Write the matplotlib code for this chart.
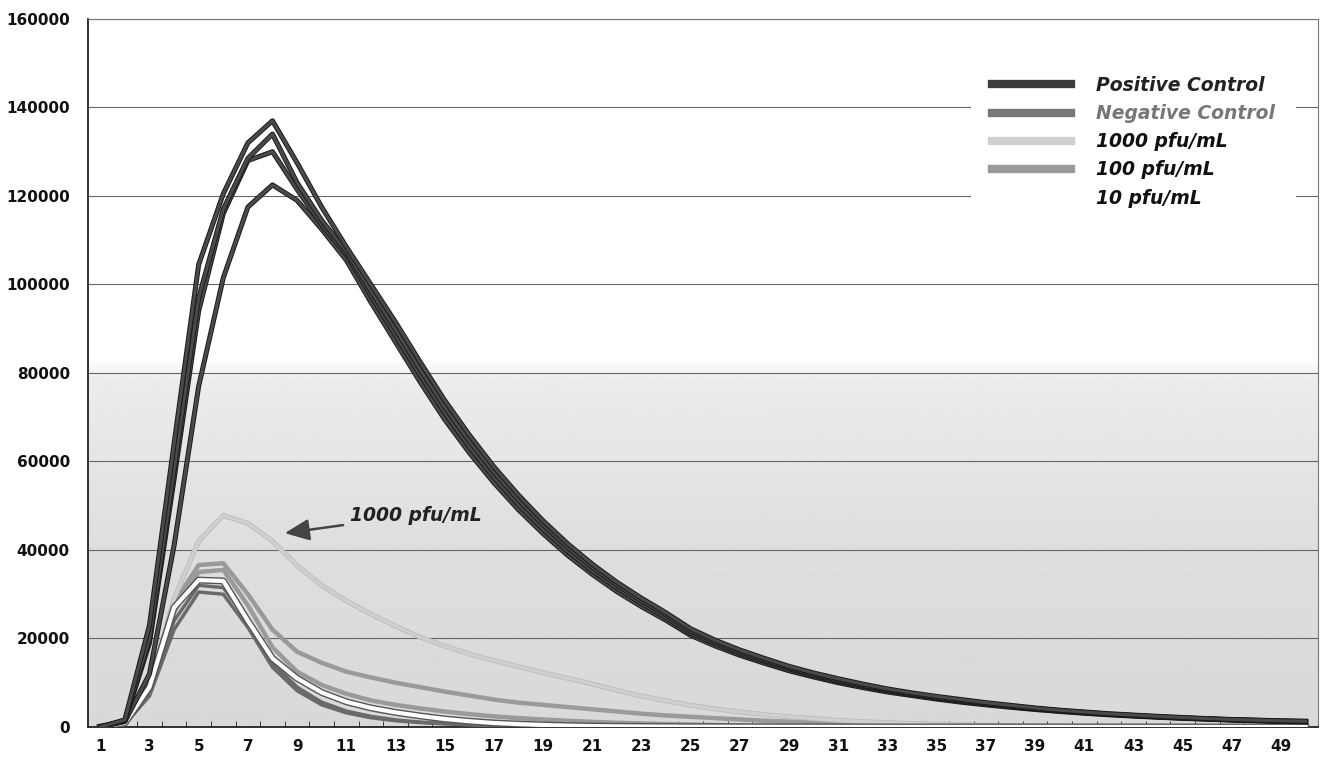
import numpy as np
import matplotlib
matplotlib.use("Agg")
import matplotlib.pyplot as plt
import matplotlib.patheffects as pe
from matplotlib.lines import Line2D

plt.rcParams['font.family'] = ['DejaVu Sans']

cycles = list(range(1, 51))

# Positive control replicates
pos_1 = [0, 1600, 23000, 64000, 104500, 120500, 132000, 137000, 127500, 117500, 108500,
         100000, 91500, 82500, 73800, 66000, 58800, 52400, 46600, 41400, 36800, 32700, 29100,
         25800, 22200, 19600, 17400, 15500, 13700, 12200, 10900, 9700, 8600, 7700, 6900, 6200,
         5500, 4900, 4300, 3800, 3400, 3000, 2700, 2400, 2150, 1900, 1700, 1550, 1400, 1300]
pos_2 = [0, 1500, 20000, 58000, 97000, 117000, 128500, 134000, 123000, 114500, 107500,
         98500, 89800, 80800, 72300, 64600, 57600, 51300, 45700, 40600, 36100, 32100, 28500,
         25300, 21700, 19200, 17000, 15100, 13400, 11900, 10600, 9400, 8400, 7500, 6700, 6000,
         5300, 4700, 4200, 3700, 3300, 2900, 2600, 2300, 2050, 1850, 1650, 1500, 1350, 1250]
pos_3 = [0, 1400, 19000, 56000, 94000, 116000, 128000, 130000, 121500, 113500, 106800,
         97500, 88500, 79500, 71000, 63300, 56400, 50200, 44700, 39700, 35300, 31400, 27900,
         24700, 21200, 18800, 16600, 14800, 13100, 11600, 10300, 9200, 8200, 7300, 6500, 5800,
         5200, 4600, 4100, 3600, 3200, 2850, 2550, 2250, 2000, 1800, 1600, 1450, 1300, 1200]
pos_4 = [0, 1200, 12000, 41000, 77000, 101500, 117500, 122500, 119000, 112500, 105500,
         96000, 87000, 78000, 69500, 62000, 55200, 49100, 43700, 38800, 34500, 30600, 27200,
         24100, 20700, 18300, 16200, 14400, 12700, 11300, 10000, 8900, 7900, 7100, 6300, 5600,
         5000, 4450, 3950, 3500, 3100, 2750, 2450, 2200, 1950, 1750, 1550, 1400, 1250, 1150]

# Negative control replicates
neg_1 = [0, 700, 8000, 24000, 32000, 31500, 24000, 14500, 9000, 5600, 3600, 2400, 1600, 1100,
         800, 550, 400, 300, 200, 150, 100, 80, 60, 50, 40, 30, 25, 20, 15, 10,
         10, 10, 5, 5, 5, 5, 5, 5, 5, 5, 0, 0, 0, 0, 0, 0, 0, 0, 0, 0]
neg_2 = [0, 600, 7000, 22000, 30500, 30000, 22500, 13500, 8200, 5000, 3200, 2100, 1400, 1000,
         700, 500, 350, 250, 180, 120, 90, 70, 50, 40, 30, 25, 20, 15, 10, 10,
         5, 5, 5, 5, 5, 5, 5, 5, 0, 0, 0, 0, 0, 0, 0, 0, 0, 0, 0, 0]

# 1000 pfu/mL
pfu1000 = [0, 800, 9000, 29000, 42000, 47800, 46000, 42000, 36500, 32000, 28500, 25500, 22800,
           20300, 18300, 16500, 15000, 13600, 12300, 11000, 9700, 8300, 7000, 5900, 4900, 4100,
           3400, 2800, 2300, 1900, 1500, 1200, 1000, 800, 650, 500, 400, 300, 250, 200, 150,
           120, 100, 80, 60, 50, 40, 30, 20, 10]

# 100 pfu/mL replicates
pfu100_1 = [0, 700, 10000, 28000, 36600, 37000, 30000, 22000, 17000, 14500, 12500, 11200, 10000,
            9000, 8000, 7100, 6200, 5500, 5000, 4500, 4000, 3500, 3000, 2600, 2300, 2000, 1700,
            1400, 1200, 1000, 850, 700, 550, 450, 380, 300, 250, 200, 160, 130, 100, 80, 60,
            50, 40, 30, 25, 20, 15, 10]
pfu100_2 = [0, 600, 8500, 26000, 35000, 35500, 27500, 18000, 12500, 9500, 7500, 6000, 5000,
            4200, 3500, 2900, 2400, 2000, 1700, 1400, 1150, 950, 800, 650, 550, 450, 380, 320,
            270, 220, 180, 150, 120, 100, 80, 60, 50, 40, 30, 25, 20, 15, 10, 10, 10, 5, 5, 5, 5, 5]

# 10 pfu/mL
pfu10 = [0, 900, 9000, 27000, 33200, 33000, 24000, 15500, 11000, 7800, 5700, 4300, 3300, 2500,
         1800, 1300, 900, 650, 450, 300, 200, 150, 110, 80, 60, 50, 40, 30, 25, 20,
         15, 10, 10, 5, 5, 5, 5, 5, 5, 5, 0, 0, 0, 0, 0, 0, 0, 0, 0, 0]

legend_labels = ['Positive Control', 'Negative Control', '1000 pfu/mL', '100 pfu/mL', '10 pfu/mL']
y_ticks = [0, 20000, 40000, 60000, 80000, 100000, 120000, 140000, 160000]

fig = plt.figure(figsize=(13.23, 7.65), dpi=100)
ax = fig.add_axes([0.0665, 0.0497, 0.9297, 0.9255])

# stippled gray background fading to white above ~80000
f = np.linspace(0, 1, 400)
shade = np.interp(f, [0, 0.25, 0.49, 0.52, 1], [0.85, 0.87, 0.925, 1.0, 1.0])
ax.imshow(shade.reshape(-1, 1), origin='lower', extent=[0.5, 50.5, 0, 160000],
          cmap='gray', vmin=0, vmax=1, aspect='auto', zorder=0, interpolation='bilinear')

ax.set_axisbelow(True)
ax.yaxis.grid(True, color='#666666', lw=0.8)

# curves
for s in [pfu100_1, pfu100_2]:
    ax.plot(cycles, s, color='#9a9a9a', lw=3.2, zorder=2)
ax.plot(cycles, pfu1000, color='#cfcfcf', lw=2.5, zorder=2,
        path_effects=[pe.Stroke(linewidth=3.5, foreground='#b8b8b8'), pe.Normal()])
for s in [neg_1, neg_2]:
    ax.plot(cycles, s, color='#6a6a6a', lw=2.5, zorder=3)
ax.plot(cycles, pfu10, color='white', lw=3, zorder=4,
        path_effects=[pe.Stroke(linewidth=5, foreground='#555555'), pe.Normal()])
for s in [pos_4, pos_3, pos_2, pos_1]:
    ax.plot(cycles, s, color='#4a4a4a', lw=2.2, zorder=5,
            path_effects=[pe.Stroke(linewidth=3.6, foreground='#1a1a1a'), pe.Normal()])

ax.set_xlim(0.5, 50.5)
ax.set_ylim(0, 160000)
ax.set_yticks(y_ticks)
ax.set_yticklabels([str(v) for v in y_ticks])
ax.set_xticks(cycles[::2])
ax.set_xticklabels([str(c) for c in cycles[::2]])
ax.set_xticks(np.arange(1.5, 50.5, 1), minor=True)
for lab in ax.get_xticklabels() + ax.get_yticklabels():
    lab.set_fontweight('bold')
ax.tick_params(axis='y', length=0, pad=13, labelsize=11, labelcolor='#111111')
ax.tick_params(axis='x', which='major', length=0, pad=9, labelsize=11, labelcolor='#111111')
ax.tick_params(axis='x', which='minor', length=4, direction='in', color='#222222')

for side in ['left', 'bottom']:
    ax.spines[side].set_color('#222222')
    ax.spines[side].set_linewidth(1.3)
for side in ['top', 'right']:
    ax.spines[side].set_color('#777777')
    ax.spines[side].set_linewidth(0.8)

# annotation arrow
ax.annotate('1000 pfu/mL', xy=(8.5, 43800), xytext=(11.15, 47900),
            fontsize=13.5, fontweight='bold', fontstyle='italic', color='#222222',
            va='center', ha='left',
            arrowprops=dict(arrowstyle='-|>,head_length=0.75,head_width=0.33',
                            color='#444444', lw=1.8, mutation_scale=20,
                            shrinkA=3, shrinkB=0))

# legend (white box hides the gridlines behind it)
handles = [Line2D([], [], color=c, lw=6) for c in
           ['#3c3c3c', '#777777', '#d0d0d0', '#9a9a9a', 'white']]
leg = ax.legend(handles, legend_labels, loc='upper left', bbox_to_anchor=(0.7106, 0.962),
                frameon=True, facecolor='white', edgecolor='none', framealpha=1,
                fancybox=False, handlelength=4.2, handletextpad=1.35, labelspacing=0.49,
                borderpad=1.1, prop=dict(size=13.5, weight='bold', style='italic'))
leg.set_zorder(6)
text_colors = ['#222222', '#777777', '#111111', '#111111', '#111111']
for t, c in zip(leg.get_texts(), text_colors):
    t.set_color(c)

fig.savefig('out.png', dpi=100)
